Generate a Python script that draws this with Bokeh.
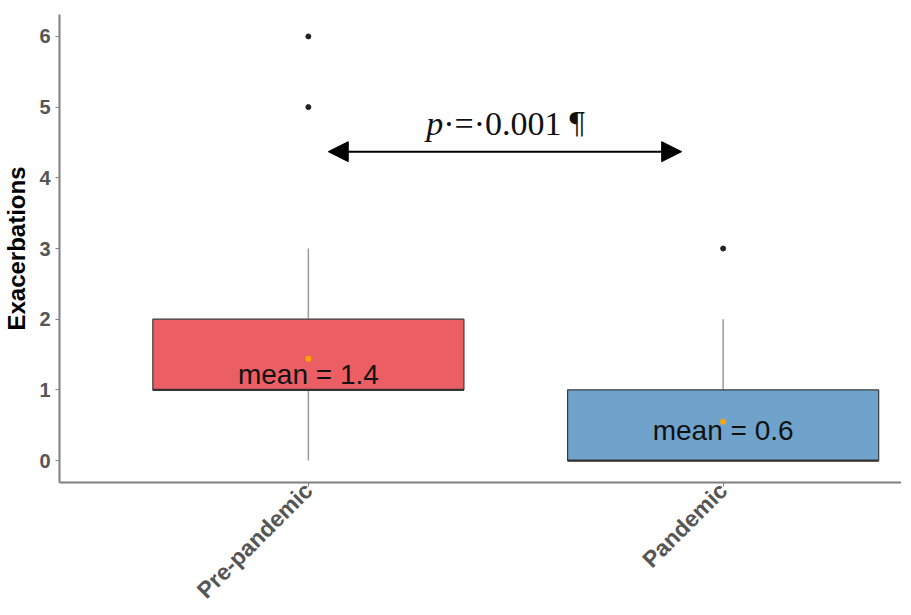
import math
from bokeh.plotting import figure
from bokeh.models import Range1d, FixedTicker, Arrow, NormalHead, Label, ColumnDataSource
from bokeh.core.properties import value
from bokeh.embed import file_html
from bokeh.resources import INLINE

categories = ["Pre-pandemic", "Pandemic"]
xpos = [1, 2]
q1 = [1, 0]
median = [1, 0]
q3 = [2, 1]
whisk_low = [0, 0]
whisk_high = [3, 2]
means = [1.44, 0.55]
mean_labels = ["mean = 1.4", "mean = 0.6"]
label_y = [1.22, 0.42]
box_colors = ["#EB5F64", "#6FA3CC"]
out_x = [1, 1, 2]
out_y = [5, 6, 3]
p_value_text = "·=·0.001"
pilcrow = "¶"

BOX_W = 0.75
Y0, Y1 = -0.31, 6.31

p = figure(width=901, height=615, output_backend="svg", toolbar_location=None,
           x_range=Range1d(0.4, 2.43), y_range=Range1d(Y0, Y1),
           min_border_left=59, min_border_right=0, min_border_top=14, min_border_bottom=110)
p.grid.visible = False
p.outline_line_color = None
p.background_fill_color = "white"

# whiskers
p.segment(x0=xpos, y0=whisk_low, x1=xpos, y1=q1, line_color="#9a9a9a", line_width=1.5)
p.segment(x0=xpos, y0=q3, x1=xpos, y1=whisk_high, line_color="#9a9a9a", line_width=1.5)

# boxes
src = ColumnDataSource(dict(x=xpos, bottom=q1, top=q3, color=box_colors))
p.vbar(x="x", width=BOX_W, bottom="bottom", top="top", fill_color="color",
       line_color="#3a3a3a", line_width=1.2, source=src)
# median lines
p.segment(x0=[x - BOX_W / 2 for x in xpos], y0=median, x1=[x + BOX_W / 2 for x in xpos], y1=median,
          line_color="#333333", line_width=2.4)

# outliers
p.scatter(x=out_x, y=out_y, size=5, color="#222222")

# means
p.scatter(x=xpos, y=means, size=6, color="#FFA500", line_color=None)
p.text(x=xpos, y=label_y, text=mean_labels, text_align="center", text_baseline="middle",
       text_font_size="28px", text_color="#111111", text_font=value("Liberation Sans"))

# arrow
p.add_layout(Arrow(x_start=1.048, y_start=4.37, x_end=1.90, y_end=4.37, line_width=2, line_color="black",
                   start=NormalHead(size=20, fill_color="black", line_color="black"),
                   end=NormalHead(size=20, fill_color="black", line_color="black")))
P_Y = 4.77
p.add_layout(Label(x=1.284, y=P_Y, text="p", text_font="Liberation Serif", text_font_style="italic",
                   text_font_size="34px", text_baseline="alphabetic", text_align="left", text_color="#111111"))
p.add_layout(Label(x=1.284, y=P_Y, x_offset=17, text=p_value_text, text_font="Liberation Serif",
                   text_font_size="34px", text_baseline="alphabetic", text_align="left", text_color="#111111"))
p.add_layout(Label(x=1.284, y=P_Y, x_offset=141, text=pilcrow, text_font="DejaVu Serif",
                   text_font_size="30px", text_baseline="alphabetic", text_align="left", text_color="#111111"))

# axes
for ax in (p.xaxis[0], p.yaxis[0]):
    ax.axis_line_color = "#7f7f7f"
    ax.axis_line_width = 2
    ax.major_tick_line_color = "#7f7f7f"
    ax.major_tick_in = 0
    ax.major_tick_out = 4
    ax.minor_tick_line_color = None
    ax.major_label_text_font = "Liberation Sans"
    ax.major_label_text_font_style = "bold"
    ax.major_label_text_color = "#555555"

p.yaxis.major_label_text_font_size = "20px"
p.xaxis.major_label_text_font_size = "23px"
p.xaxis.major_label_standoff = 0
p.xaxis.ticker = FixedTicker(ticks=xpos)
p.xaxis.major_label_overrides = {x: c for x, c in zip(xpos, categories)}
p.xaxis.major_label_orientation = math.pi / 4

p.yaxis.ticker = FixedTicker(ticks=[0, 1, 2, 3, 4, 5, 6])
p.yaxis.axis_label = "Exacerbations"
p.yaxis.axis_label_text_font = "Liberation Sans"
p.yaxis.axis_label_text_font_style = "bold"
p.yaxis.axis_label_text_font_size = "24px"
p.yaxis.axis_label_text_color = "#000000"
p.yaxis.axis_label_standoff = 6

open("out.html", "w").write(file_html(p, INLINE))
